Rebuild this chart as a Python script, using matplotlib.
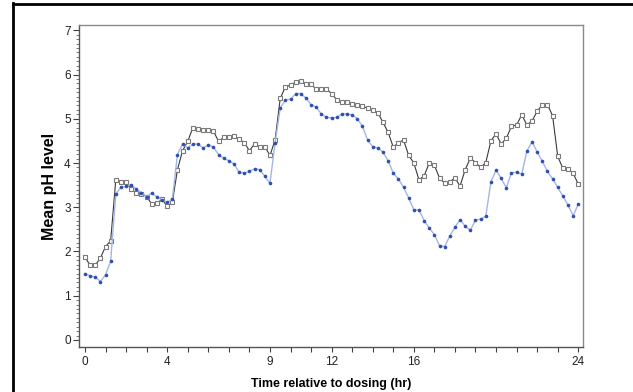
import matplotlib
matplotlib.use("Agg")
import matplotlib.pyplot as plt
from matplotlib.lines import Line2D
import numpy as np

# hours, every 15 min from 0 to 24
hours = [i * 0.25 for i in range(97)]

ph_open = [1.87, 1.69, 1.69, 1.85, 2.11, 2.24, 3.62, 3.58, 3.56, 3.41,
           3.32, 3.30, 3.24, 3.07, 3.09, 3.18, 3.02, 3.11, 3.85, 4.28,
           4.49, 4.80, 4.77, 4.75, 4.74, 4.72, 4.49, 4.58, 4.59, 4.60,
           4.54, 4.46, 4.28, 4.43, 4.37, 4.37, 4.17, 4.52, 5.46, 5.72,
           5.76, 5.83, 5.86, 5.78, 5.78, 5.67, 5.67, 5.67, 5.57, 5.43,
           5.37, 5.38, 5.33, 5.32, 5.28, 5.24, 5.19, 5.13, 4.92, 4.69,
           4.36, 4.46, 4.52, 4.17, 4.00, 3.62, 3.71, 4.00, 3.95, 3.66,
           3.54, 3.58, 3.66, 3.48, 3.85, 4.11, 4.01, 3.90, 4.01, 4.50,
           4.66, 4.43, 4.56, 4.83, 4.86, 5.09, 4.86, 4.95, 5.17, 5.32,
           5.32, 5.07, 4.15, 3.88, 3.87, 3.77, 3.52]

ph_filled = [1.50, 1.45, 1.42, 1.32, 1.47, 1.78, 3.30, 3.45, 3.47, 3.51,
             3.41, 3.33, 3.24, 3.32, 3.23, 3.17, 3.11, 3.18, 4.19, 4.43,
             4.34, 4.43, 4.43, 4.34, 4.41, 4.36, 4.19, 4.11, 4.05, 3.98,
             3.79, 3.77, 3.81, 3.87, 3.85, 3.70, 3.54, 4.46, 5.24, 5.43,
             5.44, 5.57, 5.57, 5.47, 5.32, 5.26, 5.11, 5.03, 5.02, 5.03,
             5.11, 5.11, 5.09, 5.00, 4.83, 4.52, 4.37, 4.34, 4.24, 4.05,
             3.77, 3.64, 3.45, 3.21, 2.94, 2.94, 2.70, 2.53, 2.38, 2.13,
             2.11, 2.35, 2.55, 2.72, 2.57, 2.48, 2.71, 2.73, 2.80, 3.57,
             3.84, 3.65, 3.44, 3.78, 3.79, 3.75, 4.27, 4.48, 4.25, 4.04,
             3.81, 3.64, 3.45, 3.25, 3.05, 2.81, 3.07]

xtick_labels = {0: "0", 4: "4", 9: "9", 12: "12", 16: "16", 24: "24"}
yticks = [0, 1, 2, 3, 4, 5, 6, 7]

narrow_font = ["Liberation Sans Narrow", "Liberation Sans", "DejaVu Sans"]
label_font = ["Liberation Sans", "DejaVu Sans"]

fig = plt.figure(figsize=(6.33, 3.92), dpi=100)
ax = fig.add_axes([79 / 633, 1 - 347 / 392, 504 / 633, 322 / 392])

ax.plot(hours, ph_open, color="#3a3a3a", lw=0.8, marker="s", ms=3.0,
        mfc="white", mec="#7a7a7a", mew=0.8, zorder=3)
ax.plot(hours, ph_filled, color="#a3b6e4", lw=1.0, marker="o", ms=2.6,
        mfc="#2f4fb0", mec="#2f4fb0", mew=0, zorder=4)

ax.set_xlim(-0.29, 24.23)
ax.set_ylim(-0.16, 7.12)

ax.set_xticks(range(25))
ax.set_xticklabels([xtick_labels.get(h, "") for h in range(25)])
ax.set_yticks(yticks)
ax.set_yticklabels([str(v) for v in yticks])
ax.set_yticks(np.arange(0, 7.01, 0.1), minor=True)

ax.tick_params(axis="x", direction="out", length=3.5, width=0.8,
               color="#404040", pad=3, labelsize=8.5)
ax.tick_params(axis="y", which="major", direction="out", length=4,
               width=0.8, color="#404040", pad=2, labelsize=8.5)
ax.tick_params(axis="y", which="minor", direction="out", length=2,
               width=0.6, color="#606060")
for lab in ax.get_xticklabels() + ax.get_yticklabels():
    lab.set_fontfamily(narrow_font)
    lab.set_color("#222222")

for side in ["top", "right", "bottom", "left"]:
    ax.spines[side].set_color("#8a8a8a")
    ax.spines[side].set_linewidth(1.0)
ax.spines["left"].set_color("#555555")
ax.spines["bottom"].set_color("#555555")

ax.set_xlabel("Time relative to dosing (hr)", fontsize=9, fontweight="bold",
              family=label_font, labelpad=7)
ax.set_ylabel("Mean pH level", fontsize=11.5, fontweight="bold",
              family=label_font, labelpad=5)

# outer black frame of the figure
fig.add_artist(Line2D([13 / 633, 13 / 633], [0, 1 - 3 / 392],
                      color="black", lw=2.0, transform=fig.transFigure))
fig.add_artist(Line2D([13 / 633, 1], [1 - 3.5 / 392, 1 - 3.5 / 392],
                      color="black", lw=2.0, transform=fig.transFigure))

fig.savefig("out.png", dpi=100)
